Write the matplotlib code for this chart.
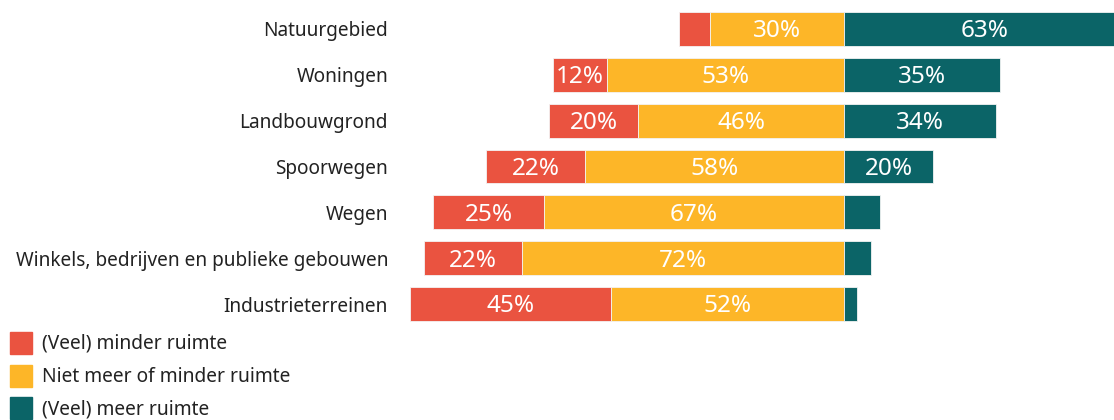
import numpy as np
import matplotlib
matplotlib.use("agg")
import matplotlib.pyplot as plt
from matplotlib.patches import Rectangle

# data
categories = ["Natuurgebied", "Woningen", "Landbouwgrond", "Spoorwegen", "Wegen",
              "Winkels, bedrijven en publieke gebouwen", "Industrieterreinen"]
minder = [7, 12, 20, 22, 25, 22, 45]
neutraal = [30, 53, 46, 58, 67, 72, 52]
meer = [63, 35, 34, 20, 8, 6, 3]
series_names = ["(Veel) minder ruimte", "Niet meer of minder ruimte", "(Veel) meer ruimte"]
colors = ["#EA5340", "#FDB628", "#0B6467"]

plt.rcParams['font.family'] = ['Noto Sans', 'DejaVu Sans']

W, H = 1114, 420
fig = plt.figure(figsize=(W / 100, H / 100), dpi=100)
# axes spans pixel 400..1114 horizontally, 6..327 vertically
ax = fig.add_axes([400 / W, 1 - 327 / H, 714 / W, 321 / H])

y = np.arange(len(categories))
minder = np.array(minder)
neutraal = np.array(neutraal)
meer = np.array(meer)
bh = 0.74

ax.barh(y, -minder, left=-neutraal, height=bh, color=colors[0], edgecolor="#f3f3f3", linewidth=0.6)
ax.barh(y, -neutraal, left=0, height=bh, color=colors[1], edgecolor="#f3f3f3", linewidth=0.6)
ax.barh(y, meer, left=0, height=bh, color=colors[2], edgecolor="#f3f3f3", linewidth=0.6)

def put_labels(starts, widths):
    for yi, s, w in zip(y, starts, widths):
        if abs(w) >= 10:
            ax.text(s + w / 2, yi + 0.05, f"{abs(w)}%", ha="center", va="center",
                    color="white", fontsize=17.5, fontweight="medium")

put_labels(-neutraal, -minder)
put_labels(np.zeros(len(y)), -neutraal)
put_labels(np.zeros(len(y)), meer)

ax.set_xlim(-99.3, 60.4)
ax.set_ylim(len(categories) - 0.5, -0.5)
ax.set_yticks(y)
ax.set_yticklabels(categories, fontsize=13.7, color="#222222")
ax.tick_params(axis="y", length=0, pad=8.6)
ax.set_xticks([])
for s in ax.spines.values():
    s.set_visible(False)

# legend
for i, (name, c) in enumerate(zip(series_names, colors)):
    yc = 343 + i * 32.5
    fig.patches.append(Rectangle((10 / W, 1 - (yc + 11) / H), 22 / W, 22 / H,
                                 transform=fig.transFigure, color=c, figure=fig))
    fig.text(42 / W, 1 - (yc + 1) / H, name, ha="left", va="center", fontsize=13.8, color="#222222")

fig.savefig("out.png", dpi=100)
